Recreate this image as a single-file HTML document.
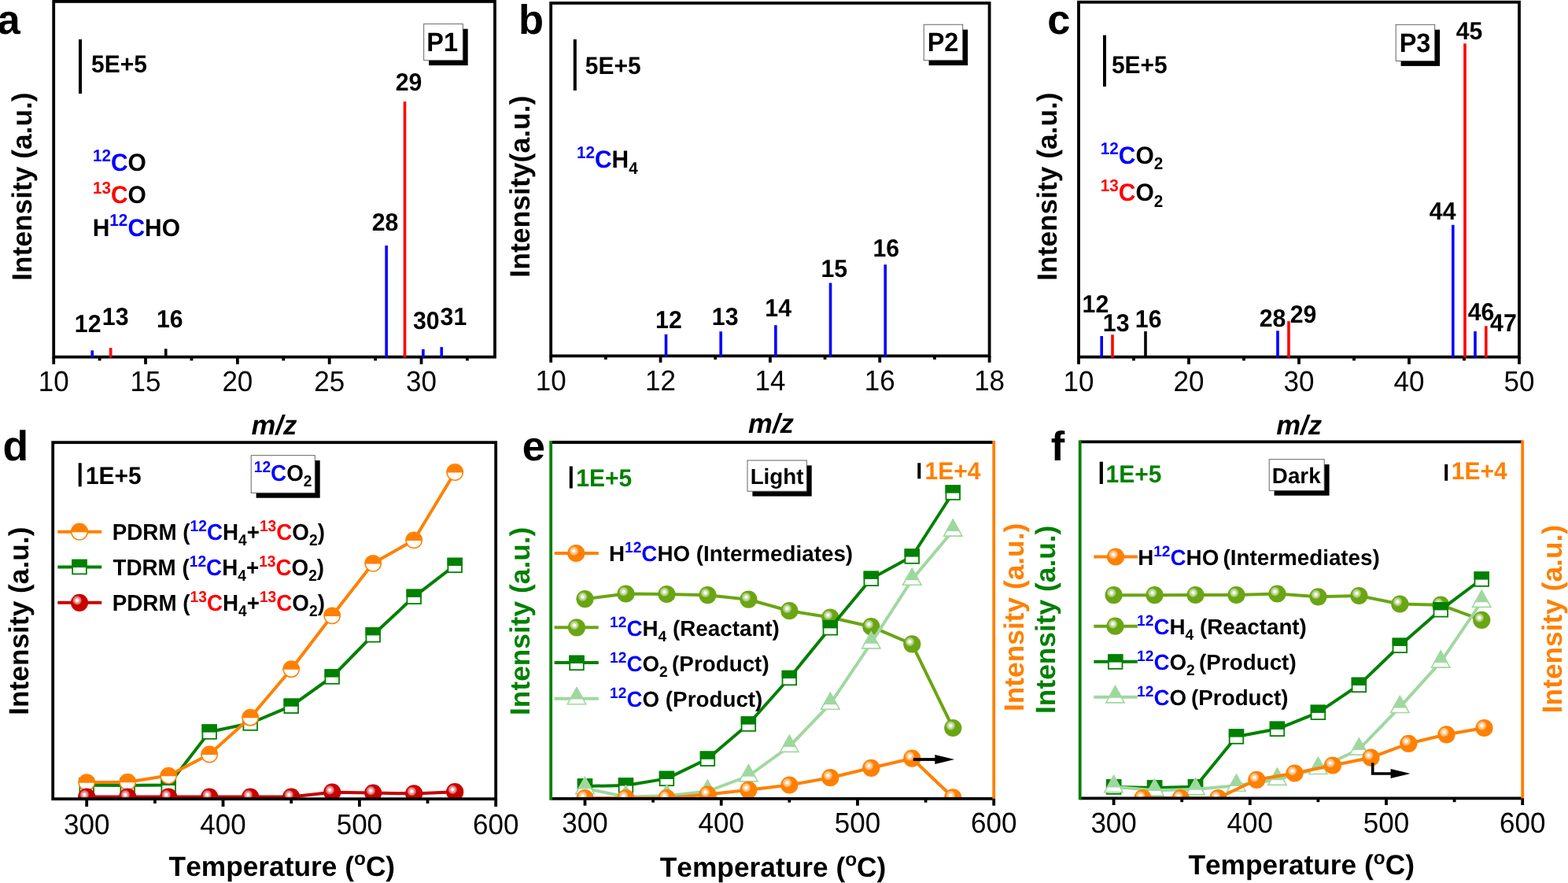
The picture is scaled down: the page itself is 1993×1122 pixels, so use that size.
<!DOCTYPE html><html><head><meta charset="utf-8"><title>Figure</title><style>html,body{margin:0;padding:0;background:#fff}body{width:1993px;height:1122px;overflow:hidden}</style></head><body><svg width="1993" height="1122" viewBox="0 0 1993 1122" font-family="'Liberation Sans', sans-serif" style="font-kerning:none;display:block" text-rendering="geometricPrecision"><defs><radialGradient id="hl" cx="0.5" cy="0.5" r="0.5"><stop offset="0" stop-color="#fff" stop-opacity="1"/><stop offset="0.2" stop-color="#fff" stop-opacity="1"/><stop offset="0.42" stop-color="#fff" stop-opacity="0.68"/><stop offset="0.76" stop-color="#fff" stop-opacity="0.42"/><stop offset="1" stop-color="#fff" stop-opacity="0"/></radialGradient><clipPath id="cd"><rect x="67.2" y="562.2" width="563.0" height="454.5"/></clipPath><clipPath id="ce"><rect x="700.2" y="562.0" width="563.0" height="454.29999999999995"/></clipPath><clipPath id="cf"><rect x="1372.7" y="561.3" width="562.5" height="454.5"/></clipPath></defs><rect x="68.20" y="1.90" width="560.80" height="451.70" fill="none" stroke="#000" stroke-width="3.8"/>
<line x1="68.20" y1="453.60" x2="68.20" y2="462.80" stroke="#000" stroke-width="3.8"/>
<line x1="185.03" y1="453.60" x2="185.03" y2="462.80" stroke="#000" stroke-width="3.8"/>
<line x1="301.87" y1="453.60" x2="301.87" y2="462.80" stroke="#000" stroke-width="3.8"/>
<line x1="418.70" y1="453.60" x2="418.70" y2="462.80" stroke="#000" stroke-width="3.8"/>
<line x1="535.53" y1="453.60" x2="535.53" y2="462.80" stroke="#000" stroke-width="3.8"/>
<line x1="126.62" y1="453.60" x2="126.62" y2="458.30" stroke="#000" stroke-width="3.8"/>
<line x1="243.45" y1="453.60" x2="243.45" y2="458.30" stroke="#000" stroke-width="3.8"/>
<line x1="360.28" y1="453.60" x2="360.28" y2="458.30" stroke="#000" stroke-width="3.8"/>
<line x1="477.12" y1="453.60" x2="477.12" y2="458.30" stroke="#000" stroke-width="3.8"/>
<line x1="593.95" y1="453.60" x2="593.95" y2="458.30" stroke="#000" stroke-width="3.8"/>
<text transform="translate(48.73,497.20) scale(1,1.04)" font-size="35.00">10</text>
<text transform="translate(165.57,497.20) scale(1,1.04)" font-size="35.00">15</text>
<text transform="translate(282.40,497.20) scale(1,1.04)" font-size="35.00">20</text>
<text transform="translate(399.23,497.20) scale(1,1.04)" font-size="35.00">25</text>
<text transform="translate(516.07,497.20) scale(1,1.04)" font-size="35.00">30</text>
<rect x="115.47" y="445.30" width="3.60" height="9.10" fill="#0000ff"/>
<rect x="138.84" y="442.00" width="3.60" height="12.40" fill="#ff0000"/>
<rect x="208.94" y="443.20" width="3.60" height="11.20" fill="#000"/>
<rect x="489.34" y="312.00" width="3.60" height="142.40" fill="#0000ff"/>
<rect x="512.70" y="129.00" width="3.60" height="325.40" fill="#ff0000"/>
<rect x="536.07" y="443.70" width="3.60" height="10.70" fill="#0000ff"/>
<rect x="559.44" y="441.00" width="3.60" height="13.40" fill="#0000ff"/>
<text transform="translate(94.79,422.00) scale(1,1.04)" font-size="30.30" font-weight="bold">12</text>
<text transform="translate(129.79,413.20) scale(1,1.04)" font-size="30.30" font-weight="bold">13</text>
<text transform="translate(198.89,416.00) scale(1,1.04)" font-size="30.30" font-weight="bold">16</text>
<text transform="translate(472.65,292.80) scale(1,1.04)" font-size="30.30" font-weight="bold">28</text>
<text transform="translate(502.65,115.00) scale(1,1.04)" font-size="30.30" font-weight="bold">29</text>
<text transform="translate(525.00,418.20) scale(1,1.04)" font-size="30.30" font-weight="bold">30</text>
<text transform="translate(559.60,412.70) scale(1,1.04)" font-size="30.30" font-weight="bold">31</text>
<rect x="100.00" y="50.00" width="4.00" height="69.00" fill="#000"/>
<text transform="translate(116.08,92.20) scale(1,1.04)" font-size="30.00" font-weight="bold">5E+5</text>
<rect x="545.10" y="36.70" width="49.60" height="46.40" fill="#000"/>
<rect x="538.70" y="30.30" width="49.60" height="46.40" fill="#fff" stroke="#555" stroke-width="0.9"/>
<text transform="translate(542.33,65.00) scale(1,1.04)" font-size="32.50" font-weight="bold">P1</text>
<text transform="translate(117.90,217.00) scale(1,1.04)" font-weight="bold"><tspan font-size="20.70" fill="#0000ff" dy="-11.68">12</tspan><tspan font-size="30.00" fill="#0000ff" dy="11.68">C</tspan><tspan font-size="30.00">O</tspan></text>
<text transform="translate(117.90,258.00) scale(1,1.04)" font-weight="bold"><tspan font-size="20.70" fill="#ff0000" dy="-11.68">13</tspan><tspan font-size="30.00" fill="#ff0000" dy="11.68">C</tspan><tspan font-size="30.00">O</tspan></text>
<text transform="translate(117.69,299.50) scale(1,1.04)" font-weight="bold"><tspan font-size="30.00">H</tspan><tspan font-size="20.70" fill="#0000ff" dy="-11.68">12</tspan><tspan font-size="30.00" fill="#0000ff" dy="11.68">C</tspan><tspan font-size="30.00">HO</tspan></text>
<text transform="translate(39.50,356.74) rotate(-90)" font-size="35.30" font-weight="bold">Intensity (a.u.)</text>
<text x="319.41" y="551.80" font-size="34.70" font-weight="bold" font-style="italic">m/z</text>
<text x="-3.63" y="43.30" font-size="52.50" font-weight="bold">a</text>
<rect x="700.20" y="3.90" width="557.40" height="448.40" fill="none" stroke="#000" stroke-width="3.8"/>
<line x1="700.20" y1="452.30" x2="700.20" y2="460.70" stroke="#000" stroke-width="3.8"/>
<line x1="839.55" y1="452.30" x2="839.55" y2="460.70" stroke="#000" stroke-width="3.8"/>
<line x1="978.90" y1="452.30" x2="978.90" y2="460.70" stroke="#000" stroke-width="3.8"/>
<line x1="1118.25" y1="452.30" x2="1118.25" y2="460.70" stroke="#000" stroke-width="3.8"/>
<line x1="1257.60" y1="452.30" x2="1257.60" y2="460.70" stroke="#000" stroke-width="3.8"/>
<line x1="769.88" y1="452.30" x2="769.88" y2="456.80" stroke="#000" stroke-width="3.8"/>
<line x1="909.23" y1="452.30" x2="909.23" y2="456.80" stroke="#000" stroke-width="3.8"/>
<line x1="1048.57" y1="452.30" x2="1048.57" y2="456.80" stroke="#000" stroke-width="3.8"/>
<line x1="1187.92" y1="452.30" x2="1187.92" y2="456.80" stroke="#000" stroke-width="3.8"/>
<text transform="translate(680.73,495.60) scale(1,1.04)" font-size="35.00">10</text>
<text transform="translate(820.08,495.60) scale(1,1.04)" font-size="35.00">12</text>
<text transform="translate(959.43,495.60) scale(1,1.04)" font-size="35.00">14</text>
<text transform="translate(1098.78,495.60) scale(1,1.04)" font-size="35.00">16</text>
<text transform="translate(1238.13,495.60) scale(1,1.04)" font-size="35.00">18</text>
<rect x="844.72" y="424.80" width="3.60" height="28.30" fill="#0000ff"/>
<rect x="914.39" y="421.20" width="3.60" height="31.90" fill="#0000ff"/>
<rect x="984.07" y="413.20" width="3.60" height="39.90" fill="#0000ff"/>
<rect x="1053.74" y="359.50" width="3.60" height="93.60" fill="#0000ff"/>
<rect x="1123.42" y="336.20" width="3.60" height="116.90" fill="#0000ff"/>
<text transform="translate(833.09,416.50) scale(1,1.04)" font-size="30.30" font-weight="bold">12</text>
<text transform="translate(904.79,412.70) scale(1,1.04)" font-size="30.30" font-weight="bold">13</text>
<text transform="translate(972.29,402.30) scale(1,1.04)" font-size="30.30" font-weight="bold">14</text>
<text transform="translate(1043.39,352.30) scale(1,1.04)" font-size="30.30" font-weight="bold">15</text>
<text transform="translate(1109.39,326.20) scale(1,1.04)" font-size="30.30" font-weight="bold">16</text>
<rect x="728.80" y="50.00" width="4.00" height="65.00" fill="#000"/>
<text transform="translate(743.78,94.00) scale(1,1.04)" font-size="30.00" font-weight="bold">5E+5</text>
<rect x="1180.60" y="37.60" width="49.50" height="45.50" fill="#000"/>
<rect x="1174.20" y="31.20" width="49.50" height="45.50" fill="#fff" stroke="#555" stroke-width="0.9"/>
<text transform="translate(1178.63,65.00) scale(1,1.04)" font-size="32.50" font-weight="bold">P2</text>
<text transform="translate(732.90,213.30) scale(1,1.04)" font-weight="bold"><tspan font-size="20.70" fill="#0000ff" dy="-11.68">12</tspan><tspan font-size="30.00" fill="#0000ff" dy="11.68">C</tspan><tspan font-size="30.00">H</tspan><tspan font-size="20.70" dy="7.36">4</tspan></text>
<text transform="translate(672.50,352.71) rotate(-90)" font-size="35.60" font-weight="bold">Intensity(a.u.)</text>
<text x="951.11" y="550.30" font-size="34.70" font-weight="bold" font-style="italic">m/z</text>
<text x="659.04" y="43.20" font-size="52.50" font-weight="bold">b</text>
<rect x="1371.00" y="2.70" width="560.00" height="450.90" fill="none" stroke="#000" stroke-width="3.8"/>
<line x1="1371.00" y1="453.60" x2="1371.00" y2="462.80" stroke="#000" stroke-width="3.8"/>
<line x1="1511.00" y1="453.60" x2="1511.00" y2="462.80" stroke="#000" stroke-width="3.8"/>
<line x1="1651.00" y1="453.60" x2="1651.00" y2="462.80" stroke="#000" stroke-width="3.8"/>
<line x1="1791.00" y1="453.60" x2="1791.00" y2="462.80" stroke="#000" stroke-width="3.8"/>
<line x1="1931.00" y1="453.60" x2="1931.00" y2="462.80" stroke="#000" stroke-width="3.8"/>
<line x1="1441.00" y1="453.60" x2="1441.00" y2="458.30" stroke="#000" stroke-width="3.8"/>
<line x1="1581.00" y1="453.60" x2="1581.00" y2="458.30" stroke="#000" stroke-width="3.8"/>
<line x1="1721.00" y1="453.60" x2="1721.00" y2="458.30" stroke="#000" stroke-width="3.8"/>
<line x1="1861.00" y1="453.60" x2="1861.00" y2="458.30" stroke="#000" stroke-width="3.8"/>
<text transform="translate(1351.53,497.20) scale(1,1.04)" font-size="35.00">10</text>
<text transform="translate(1491.53,497.20) scale(1,1.04)" font-size="35.00">20</text>
<text transform="translate(1631.53,497.20) scale(1,1.04)" font-size="35.00">30</text>
<text transform="translate(1771.53,497.20) scale(1,1.04)" font-size="35.00">40</text>
<text transform="translate(1911.53,497.20) scale(1,1.04)" font-size="35.00">50</text>
<rect x="1398.40" y="427.00" width="3.60" height="27.40" fill="#0000ff"/>
<rect x="1412.20" y="425.30" width="3.60" height="29.10" fill="#ff0000"/>
<rect x="1454.20" y="421.00" width="3.60" height="33.40" fill="#000"/>
<rect x="1622.20" y="420.30" width="3.60" height="34.10" fill="#0000ff"/>
<rect x="1636.20" y="408.20" width="3.60" height="46.20" fill="#ff0000"/>
<rect x="1845.00" y="285.80" width="3.60" height="168.60" fill="#0000ff"/>
<rect x="1860.20" y="55.30" width="3.60" height="399.10" fill="#ff0000"/>
<rect x="1873.20" y="421.00" width="3.60" height="33.40" fill="#0000ff"/>
<rect x="1887.00" y="414.30" width="3.60" height="40.10" fill="#ff0000"/>
<text transform="translate(1375.59,397.30) scale(1,1.04)" font-size="30.30" font-weight="bold">12</text>
<text transform="translate(1401.79,421.00) scale(1,1.04)" font-size="30.30" font-weight="bold">13</text>
<text transform="translate(1442.79,415.70) scale(1,1.04)" font-size="30.30" font-weight="bold">16</text>
<text transform="translate(1600.65,414.80) scale(1,1.04)" font-size="30.30" font-weight="bold">28</text>
<text transform="translate(1639.65,409.80) scale(1,1.04)" font-size="30.30" font-weight="bold">29</text>
<text transform="translate(1816.84,278.70) scale(1,1.04)" font-size="30.30" font-weight="bold">44</text>
<text transform="translate(1850.74,49.70) scale(1,1.04)" font-size="30.30" font-weight="bold">45</text>
<text transform="translate(1865.74,407.30) scale(1,1.04)" font-size="30.30" font-weight="bold">46</text>
<text transform="translate(1894.04,421.00) scale(1,1.04)" font-size="30.30" font-weight="bold">47</text>
<rect x="1402.00" y="44.70" width="4.00" height="65.30" fill="#000"/>
<text transform="translate(1412.88,93.30) scale(1,1.04)" font-size="30.00" font-weight="bold">5E+5</text>
<rect x="1780.60" y="37.70" width="49.50" height="46.20" fill="#000"/>
<rect x="1774.20" y="31.30" width="49.50" height="46.20" fill="#fff" stroke="#555" stroke-width="0.9"/>
<text transform="translate(1778.63,65.80) scale(1,1.04)" font-size="32.50" font-weight="bold">P3</text>
<text transform="translate(1398.70,207.80) scale(1,1.04)" font-weight="bold"><tspan font-size="20.70" fill="#0000ff" dy="-11.68">12</tspan><tspan font-size="30.00" fill="#0000ff" dy="11.68">C</tspan><tspan font-size="30.00">O</tspan><tspan font-size="20.70" dy="7.36">2</tspan></text>
<text transform="translate(1398.70,255.00) scale(1,1.04)" font-weight="bold"><tspan font-size="20.70" fill="#ff0000" dy="-11.68">13</tspan><tspan font-size="30.00" fill="#ff0000" dy="11.68">C</tspan><tspan font-size="30.00">O</tspan><tspan font-size="20.70" dy="7.36">2</tspan></text>
<text transform="translate(1342.50,356.74) rotate(-90)" font-size="35.30" font-weight="bold">Intensity (a.u.)</text>
<text x="1622.21" y="552.00" font-size="34.70" font-weight="bold" font-style="italic">m/z</text>
<text x="1331.25" y="43.30" font-size="52.50" font-weight="bold">c</text>
<g clip-path="url(#cd)">
<polyline points="110.20,997.70 162.20,998.00 214.20,997.50 266.20,930.00 318.20,919.00 370.20,897.20 422.20,860.00 474.20,806.80 526.20,758.30 578.20,718.40" fill="none" stroke="#008000" stroke-width="4.0" stroke-linejoin="round"/>
<rect x="101.40" y="988.90" width="17.60" height="17.60" fill="#fff" stroke="#008000" stroke-width="1.8"/>
<rect x="100.50" y="988.00" width="19.40" height="10.30" fill="#008000"/>
<rect x="153.40" y="989.20" width="17.60" height="17.60" fill="#fff" stroke="#008000" stroke-width="1.8"/>
<rect x="152.50" y="988.30" width="19.40" height="10.30" fill="#008000"/>
<rect x="205.40" y="988.70" width="17.60" height="17.60" fill="#fff" stroke="#008000" stroke-width="1.8"/>
<rect x="204.50" y="987.80" width="19.40" height="10.30" fill="#008000"/>
<rect x="257.40" y="921.20" width="17.60" height="17.60" fill="#fff" stroke="#008000" stroke-width="1.8"/>
<rect x="256.50" y="920.30" width="19.40" height="10.30" fill="#008000"/>
<rect x="309.40" y="910.20" width="17.60" height="17.60" fill="#fff" stroke="#008000" stroke-width="1.8"/>
<rect x="308.50" y="909.30" width="19.40" height="10.30" fill="#008000"/>
<rect x="361.40" y="888.40" width="17.60" height="17.60" fill="#fff" stroke="#008000" stroke-width="1.8"/>
<rect x="360.50" y="887.50" width="19.40" height="10.30" fill="#008000"/>
<rect x="413.40" y="851.20" width="17.60" height="17.60" fill="#fff" stroke="#008000" stroke-width="1.8"/>
<rect x="412.50" y="850.30" width="19.40" height="10.30" fill="#008000"/>
<rect x="465.40" y="798.00" width="17.60" height="17.60" fill="#fff" stroke="#008000" stroke-width="1.8"/>
<rect x="464.50" y="797.10" width="19.40" height="10.30" fill="#008000"/>
<rect x="517.40" y="749.50" width="17.60" height="17.60" fill="#fff" stroke="#008000" stroke-width="1.8"/>
<rect x="516.50" y="748.60" width="19.40" height="10.30" fill="#008000"/>
<rect x="569.40" y="709.60" width="17.60" height="17.60" fill="#fff" stroke="#008000" stroke-width="1.8"/>
<rect x="568.50" y="708.70" width="19.40" height="10.30" fill="#008000"/>
<polyline points="110.20,994.20 162.20,993.70 214.20,985.60 266.20,958.50 318.20,911.70 370.20,850.20 422.20,782.30 474.20,715.80 526.20,686.30 578.20,600.00" fill="none" stroke="#ff8000" stroke-width="4.0" stroke-linejoin="round"/>
<circle cx="110.20" cy="994.20" r="10.15" fill="#fff" stroke="#ff8000" stroke-width="1.5"/>
<path d="M99.32,994.80 A10.9,10.9 0 0 1 121.08,994.80 Z" fill="#ff8000"/>
<circle cx="162.20" cy="993.70" r="10.15" fill="#fff" stroke="#ff8000" stroke-width="1.5"/>
<path d="M151.32,994.30 A10.9,10.9 0 0 1 173.08,994.30 Z" fill="#ff8000"/>
<circle cx="214.20" cy="985.60" r="10.15" fill="#fff" stroke="#ff8000" stroke-width="1.5"/>
<path d="M203.32,986.20 A10.9,10.9 0 0 1 225.08,986.20 Z" fill="#ff8000"/>
<circle cx="266.20" cy="958.50" r="10.15" fill="#fff" stroke="#ff8000" stroke-width="1.5"/>
<path d="M255.32,959.10 A10.9,10.9 0 0 1 277.08,959.10 Z" fill="#ff8000"/>
<circle cx="318.20" cy="911.70" r="10.15" fill="#fff" stroke="#ff8000" stroke-width="1.5"/>
<path d="M307.32,912.30 A10.9,10.9 0 0 1 329.08,912.30 Z" fill="#ff8000"/>
<circle cx="370.20" cy="850.20" r="10.15" fill="#fff" stroke="#ff8000" stroke-width="1.5"/>
<path d="M359.32,850.80 A10.9,10.9 0 0 1 381.08,850.80 Z" fill="#ff8000"/>
<circle cx="422.20" cy="782.30" r="10.15" fill="#fff" stroke="#ff8000" stroke-width="1.5"/>
<path d="M411.32,782.90 A10.9,10.9 0 0 1 433.08,782.90 Z" fill="#ff8000"/>
<circle cx="474.20" cy="715.80" r="10.15" fill="#fff" stroke="#ff8000" stroke-width="1.5"/>
<path d="M463.32,716.40 A10.9,10.9 0 0 1 485.08,716.40 Z" fill="#ff8000"/>
<circle cx="526.20" cy="686.30" r="10.15" fill="#fff" stroke="#ff8000" stroke-width="1.5"/>
<path d="M515.32,686.90 A10.9,10.9 0 0 1 537.08,686.90 Z" fill="#ff8000"/>
<circle cx="578.20" cy="600.00" r="10.15" fill="#fff" stroke="#ff8000" stroke-width="1.5"/>
<path d="M567.32,600.60 A10.9,10.9 0 0 1 589.08,600.60 Z" fill="#ff8000"/>
<polyline points="110.20,1012.60 162.20,1012.60 214.20,1012.60 266.20,1012.60 318.20,1012.60 370.20,1012.60 422.20,1006.70 474.20,1007.60 526.20,1008.40 578.20,1006.20" fill="none" stroke="#c80000" stroke-width="4.0" stroke-linejoin="round"/>
<circle cx="110.20" cy="1012.60" r="11.1" fill="#c80000"/><circle cx="107.30" cy="1009.70" r="6.2" fill="url(#hl)"/>
<circle cx="162.20" cy="1012.60" r="11.1" fill="#c80000"/><circle cx="159.30" cy="1009.70" r="6.2" fill="url(#hl)"/>
<circle cx="214.20" cy="1012.60" r="11.1" fill="#c80000"/><circle cx="211.30" cy="1009.70" r="6.2" fill="url(#hl)"/>
<circle cx="266.20" cy="1012.60" r="11.1" fill="#c80000"/><circle cx="263.30" cy="1009.70" r="6.2" fill="url(#hl)"/>
<circle cx="318.20" cy="1012.60" r="11.1" fill="#c80000"/><circle cx="315.30" cy="1009.70" r="6.2" fill="url(#hl)"/>
<circle cx="370.20" cy="1012.60" r="11.1" fill="#c80000"/><circle cx="367.30" cy="1009.70" r="6.2" fill="url(#hl)"/>
<circle cx="422.20" cy="1006.70" r="11.1" fill="#c80000"/><circle cx="419.30" cy="1003.80" r="6.2" fill="url(#hl)"/>
<circle cx="474.20" cy="1007.60" r="11.1" fill="#c80000"/><circle cx="471.30" cy="1004.70" r="6.2" fill="url(#hl)"/>
<circle cx="526.20" cy="1008.40" r="11.1" fill="#c80000"/><circle cx="523.30" cy="1005.50" r="6.2" fill="url(#hl)"/>
<circle cx="578.20" cy="1006.20" r="11.1" fill="#c80000"/><circle cx="575.30" cy="1003.30" r="6.2" fill="url(#hl)"/>
</g>
<rect x="67.20" y="562.20" width="563.00" height="453.00" fill="none" stroke="#000" stroke-width="3.8"/>
<line x1="110.20" y1="1015.20" x2="110.20" y2="1025.00" stroke="#000" stroke-width="3.8"/>
<text transform="translate(81.00,1059.70) scale(1,1.04)" font-size="35.00">300</text>
<line x1="283.53" y1="1015.20" x2="283.53" y2="1025.00" stroke="#000" stroke-width="3.8"/>
<text transform="translate(254.34,1059.70) scale(1,1.04)" font-size="35.00">400</text>
<line x1="456.87" y1="1015.20" x2="456.87" y2="1025.00" stroke="#000" stroke-width="3.8"/>
<text transform="translate(427.67,1059.70) scale(1,1.04)" font-size="35.00">500</text>
<line x1="630.20" y1="1015.20" x2="630.20" y2="1025.00" stroke="#000" stroke-width="3.8"/>
<text transform="translate(601.00,1059.70) scale(1,1.04)" font-size="35.00">600</text>
<line x1="196.87" y1="1015.20" x2="196.87" y2="1020.90" stroke="#000" stroke-width="3.8"/>
<line x1="370.20" y1="1015.20" x2="370.20" y2="1020.90" stroke="#000" stroke-width="3.8"/>
<line x1="543.53" y1="1015.20" x2="543.53" y2="1020.90" stroke="#000" stroke-width="3.8"/>
<line x1="73.30" y1="675.80" x2="129.20" y2="675.80" stroke="#ff8000" stroke-width="4.0"/>
<circle cx="101.00" cy="675.60" r="10.35" fill="#fff" stroke="#ff8000" stroke-width="1.5"/>
<path d="M89.92,676.20 A11.1,11.1 0 0 1 112.08,676.20 Z" fill="#ff8000"/>
<line x1="73.30" y1="720.50" x2="129.20" y2="720.50" stroke="#008000" stroke-width="4.0"/>
<rect x="92.15" y="711.65" width="17.70" height="17.70" fill="#fff" stroke="#008000" stroke-width="1.8"/>
<rect x="91.25" y="710.75" width="19.50" height="10.35" fill="#008000"/>
<line x1="73.30" y1="765.80" x2="129.20" y2="765.80" stroke="#c80000" stroke-width="4.0"/>
<circle cx="101.00" cy="765.80" r="11.1" fill="#c80000"/><circle cx="98.10" cy="762.90" r="6.2" fill="url(#hl)"/>
<text transform="translate(142.74,685.90) scale(1,1.04)" font-weight="bold"><tspan font-size="27.80">PDRM (</tspan><tspan font-size="19.18" fill="#0000ff" dy="-10.83">12</tspan><tspan font-size="27.80" fill="#0000ff" dy="10.83">C</tspan><tspan font-size="27.80">H</tspan><tspan font-size="19.18" dy="6.82">4</tspan><tspan font-size="27.80" dy="-6.82">+</tspan><tspan font-size="19.18" fill="#ff0000" dy="-10.83">13</tspan><tspan font-size="27.80" fill="#ff0000" dy="10.83">C</tspan><tspan font-size="27.80">O</tspan><tspan font-size="19.18" dy="6.82">2</tspan><tspan font-size="27.80" dy="-6.82">)</tspan></text>
<text transform="translate(143.49,731.00) scale(1,1.04)" font-weight="bold"><tspan font-size="27.80">TDRM (</tspan><tspan font-size="19.18" fill="#0000ff" dy="-10.83">12</tspan><tspan font-size="27.80" fill="#0000ff" dy="10.83">C</tspan><tspan font-size="27.80">H</tspan><tspan font-size="19.18" dy="6.82">4</tspan><tspan font-size="27.80" dy="-6.82">+</tspan><tspan font-size="19.18" fill="#ff0000" dy="-10.83">13</tspan><tspan font-size="27.80" fill="#ff0000" dy="10.83">C</tspan><tspan font-size="27.80">O</tspan><tspan font-size="19.18" dy="6.82">2</tspan><tspan font-size="27.80" dy="-6.82">)</tspan></text>
<text transform="translate(142.74,776.20) scale(1,1.04)" font-weight="bold"><tspan font-size="27.80">PDRM (</tspan><tspan font-size="19.18" fill="#ff0000" dy="-10.83">13</tspan><tspan font-size="27.80" fill="#ff0000" dy="10.83">C</tspan><tspan font-size="27.80">H</tspan><tspan font-size="19.18" dy="6.82">4</tspan><tspan font-size="27.80" dy="-6.82">+</tspan><tspan font-size="19.18" fill="#ff0000" dy="-10.83">13</tspan><tspan font-size="27.80" fill="#ff0000" dy="10.83">C</tspan><tspan font-size="27.80">O</tspan><tspan font-size="19.18" dy="6.82">2</tspan><tspan font-size="27.80" dy="-6.82">)</tspan></text>
<rect x="99.70" y="588.30" width="4.00" height="30.00" fill="#000"/>
<text transform="translate(108.91,615.00) scale(1,1.04)" font-size="30.00" font-weight="bold">1E+5</text>
<rect x="325.60" y="585.10" width="81.10" height="47.60" fill="#000"/>
<rect x="319.20" y="578.70" width="81.10" height="47.60" fill="#fff" stroke="#555" stroke-width="0.9"/>
<text transform="translate(322.79,611.00) scale(1,1.04)" font-weight="bold"><tspan font-size="19.18" fill="#0000ff" dy="-10.83">12</tspan><tspan font-size="27.80" fill="#0000ff" dy="10.83">C</tspan><tspan font-size="27.80">O</tspan><tspan font-size="19.18" dy="6.82">2</tspan></text>
<text transform="translate(35.50,908.84) rotate(-90)" font-size="35.30" font-weight="bold">Intensity (a.u.)</text>
<text x="214.60" y="1113.00" font-weight="bold"><tspan font-size="35.30">Temperature (</tspan><tspan font-size="24.36" dy="-13.80">o</tspan><tspan font-size="35.30" dy="13.80">C)</tspan></text>
<text x="3.41" y="585.00" font-size="53.50" font-weight="bold">d</text>
<g clip-path="url(#ce)">
<polyline points="743.50,761.20 795.47,754.50 847.44,755.00 899.41,756.20 951.38,761.70 1003.35,776.20 1055.32,784.50 1107.29,796.20 1159.26,818.30 1211.23,925.00" fill="none" stroke="#6aa514" stroke-width="4.0" stroke-linejoin="round"/>
<circle cx="743.50" cy="761.20" r="11.1" fill="#6aa514"/><circle cx="740.60" cy="758.30" r="6.2" fill="url(#hl)"/>
<circle cx="795.47" cy="754.50" r="11.1" fill="#6aa514"/><circle cx="792.57" cy="751.60" r="6.2" fill="url(#hl)"/>
<circle cx="847.44" cy="755.00" r="11.1" fill="#6aa514"/><circle cx="844.54" cy="752.10" r="6.2" fill="url(#hl)"/>
<circle cx="899.41" cy="756.20" r="11.1" fill="#6aa514"/><circle cx="896.51" cy="753.30" r="6.2" fill="url(#hl)"/>
<circle cx="951.38" cy="761.70" r="11.1" fill="#6aa514"/><circle cx="948.48" cy="758.80" r="6.2" fill="url(#hl)"/>
<circle cx="1003.35" cy="776.20" r="11.1" fill="#6aa514"/><circle cx="1000.45" cy="773.30" r="6.2" fill="url(#hl)"/>
<circle cx="1055.32" cy="784.50" r="11.1" fill="#6aa514"/><circle cx="1052.42" cy="781.60" r="6.2" fill="url(#hl)"/>
<circle cx="1107.29" cy="796.20" r="11.1" fill="#6aa514"/><circle cx="1104.39" cy="793.30" r="6.2" fill="url(#hl)"/>
<circle cx="1159.26" cy="818.30" r="11.1" fill="#6aa514"/><circle cx="1156.36" cy="815.40" r="6.2" fill="url(#hl)"/>
<circle cx="1211.23" cy="925.00" r="11.1" fill="#6aa514"/><circle cx="1208.33" cy="922.10" r="6.2" fill="url(#hl)"/>
<polyline points="743.50,999.00 795.47,998.00 847.44,989.40 899.41,964.20 951.38,920.00 1003.35,861.50 1055.32,797.80 1107.29,735.30 1159.26,707.00 1211.23,626.00" fill="none" stroke="#008000" stroke-width="4.0" stroke-linejoin="round"/>
<rect x="734.70" y="990.20" width="17.60" height="17.60" fill="#fff" stroke="#008000" stroke-width="1.8"/>
<rect x="733.80" y="989.30" width="19.40" height="10.30" fill="#008000"/>
<rect x="786.67" y="989.20" width="17.60" height="17.60" fill="#fff" stroke="#008000" stroke-width="1.8"/>
<rect x="785.77" y="988.30" width="19.40" height="10.30" fill="#008000"/>
<rect x="838.64" y="980.60" width="17.60" height="17.60" fill="#fff" stroke="#008000" stroke-width="1.8"/>
<rect x="837.74" y="979.70" width="19.40" height="10.30" fill="#008000"/>
<rect x="890.61" y="955.40" width="17.60" height="17.60" fill="#fff" stroke="#008000" stroke-width="1.8"/>
<rect x="889.71" y="954.50" width="19.40" height="10.30" fill="#008000"/>
<rect x="942.58" y="911.20" width="17.60" height="17.60" fill="#fff" stroke="#008000" stroke-width="1.8"/>
<rect x="941.68" y="910.30" width="19.40" height="10.30" fill="#008000"/>
<rect x="994.55" y="852.70" width="17.60" height="17.60" fill="#fff" stroke="#008000" stroke-width="1.8"/>
<rect x="993.65" y="851.80" width="19.40" height="10.30" fill="#008000"/>
<rect x="1046.52" y="789.00" width="17.60" height="17.60" fill="#fff" stroke="#008000" stroke-width="1.8"/>
<rect x="1045.62" y="788.10" width="19.40" height="10.30" fill="#008000"/>
<rect x="1098.49" y="726.50" width="17.60" height="17.60" fill="#fff" stroke="#008000" stroke-width="1.8"/>
<rect x="1097.59" y="725.60" width="19.40" height="10.30" fill="#008000"/>
<rect x="1150.46" y="698.20" width="17.60" height="17.60" fill="#fff" stroke="#008000" stroke-width="1.8"/>
<rect x="1149.56" y="697.30" width="19.40" height="10.30" fill="#008000"/>
<rect x="1202.43" y="617.20" width="17.60" height="17.60" fill="#fff" stroke="#008000" stroke-width="1.8"/>
<rect x="1201.53" y="616.30" width="19.40" height="10.30" fill="#008000"/>
<polyline points="743.50,1001.70 795.47,1012.50 847.44,1011.30 899.41,1005.50 951.38,986.00 1003.35,948.50 1055.32,894.40 1107.29,817.00 1159.26,736.40 1211.23,674.20" fill="none" stroke="#9fd89f" stroke-width="4.0" stroke-linejoin="round"/>
<path d="M743.50,987.70 L755.20,1008.60 L731.80,1008.60 Z" fill="#fff" stroke="#9fd89f" stroke-width="1.6" stroke-linejoin="miter"/>
<path d="M743.50,986.30 L752.69,1002.50 L734.31,1002.50 Z" fill="#9fd89f"/>
<path d="M795.47,998.50 L807.17,1019.40 L783.77,1019.40 Z" fill="#fff" stroke="#9fd89f" stroke-width="1.6" stroke-linejoin="miter"/>
<path d="M795.47,997.10 L804.66,1013.30 L786.28,1013.30 Z" fill="#9fd89f"/>
<path d="M847.44,997.30 L859.14,1018.20 L835.74,1018.20 Z" fill="#fff" stroke="#9fd89f" stroke-width="1.6" stroke-linejoin="miter"/>
<path d="M847.44,995.90 L856.63,1012.10 L838.25,1012.10 Z" fill="#9fd89f"/>
<path d="M899.41,991.50 L911.11,1012.40 L887.71,1012.40 Z" fill="#fff" stroke="#9fd89f" stroke-width="1.6" stroke-linejoin="miter"/>
<path d="M899.41,990.10 L908.60,1006.30 L890.22,1006.30 Z" fill="#9fd89f"/>
<path d="M951.38,972.00 L963.08,992.90 L939.68,992.90 Z" fill="#fff" stroke="#9fd89f" stroke-width="1.6" stroke-linejoin="miter"/>
<path d="M951.38,970.60 L960.57,986.80 L942.19,986.80 Z" fill="#9fd89f"/>
<path d="M1003.35,934.50 L1015.05,955.40 L991.65,955.40 Z" fill="#fff" stroke="#9fd89f" stroke-width="1.6" stroke-linejoin="miter"/>
<path d="M1003.35,933.10 L1012.54,949.30 L994.16,949.30 Z" fill="#9fd89f"/>
<path d="M1055.32,880.40 L1067.02,901.30 L1043.62,901.30 Z" fill="#fff" stroke="#9fd89f" stroke-width="1.6" stroke-linejoin="miter"/>
<path d="M1055.32,879.00 L1064.51,895.20 L1046.13,895.20 Z" fill="#9fd89f"/>
<path d="M1107.29,803.00 L1118.99,823.90 L1095.59,823.90 Z" fill="#fff" stroke="#9fd89f" stroke-width="1.6" stroke-linejoin="miter"/>
<path d="M1107.29,801.60 L1116.48,817.80 L1098.10,817.80 Z" fill="#9fd89f"/>
<path d="M1159.26,722.40 L1170.96,743.30 L1147.56,743.30 Z" fill="#fff" stroke="#9fd89f" stroke-width="1.6" stroke-linejoin="miter"/>
<path d="M1159.26,721.00 L1168.45,737.20 L1150.07,737.20 Z" fill="#9fd89f"/>
<path d="M1211.23,660.20 L1222.93,681.10 L1199.53,681.10 Z" fill="#fff" stroke="#9fd89f" stroke-width="1.6" stroke-linejoin="miter"/>
<path d="M1211.23,658.80 L1220.42,675.00 L1202.04,675.00 Z" fill="#9fd89f"/>
<polyline points="743.50,1014.00 795.47,1014.00 847.44,1014.00 899.41,1009.50 951.38,1003.80 1003.35,997.50 1055.32,988.20 1107.29,975.80 1159.26,963.70 1211.23,1013.30" fill="none" stroke="#ff8000" stroke-width="4.0" stroke-linejoin="round"/>
<circle cx="743.50" cy="1014.00" r="11.1" fill="#ff8000"/><circle cx="740.60" cy="1011.10" r="6.2" fill="url(#hl)"/>
<circle cx="795.47" cy="1014.00" r="11.1" fill="#ff8000"/><circle cx="792.57" cy="1011.10" r="6.2" fill="url(#hl)"/>
<circle cx="847.44" cy="1014.00" r="11.1" fill="#ff8000"/><circle cx="844.54" cy="1011.10" r="6.2" fill="url(#hl)"/>
<circle cx="899.41" cy="1009.50" r="11.1" fill="#ff8000"/><circle cx="896.51" cy="1006.60" r="6.2" fill="url(#hl)"/>
<circle cx="951.38" cy="1003.80" r="11.1" fill="#ff8000"/><circle cx="948.48" cy="1000.90" r="6.2" fill="url(#hl)"/>
<circle cx="1003.35" cy="997.50" r="11.1" fill="#ff8000"/><circle cx="1000.45" cy="994.60" r="6.2" fill="url(#hl)"/>
<circle cx="1055.32" cy="988.20" r="11.1" fill="#ff8000"/><circle cx="1052.42" cy="985.30" r="6.2" fill="url(#hl)"/>
<circle cx="1107.29" cy="975.80" r="11.1" fill="#ff8000"/><circle cx="1104.39" cy="972.90" r="6.2" fill="url(#hl)"/>
<circle cx="1159.26" cy="963.70" r="11.1" fill="#ff8000"/><circle cx="1156.36" cy="960.80" r="6.2" fill="url(#hl)"/>
<circle cx="1211.23" cy="1013.30" r="11.1" fill="#ff8000"/><circle cx="1208.33" cy="1010.40" r="6.2" fill="url(#hl)"/>
</g>
<line x1="700.20" y1="562.00" x2="1263.20" y2="562.00" stroke="#000" stroke-width="3.8"/>
<line x1="700.20" y1="1014.80" x2="1263.20" y2="1014.80" stroke="#000" stroke-width="3.8"/>
<line x1="700.20" y1="560.10" x2="700.20" y2="1016.70" stroke="#008000" stroke-width="3.8"/>
<line x1="1263.20" y1="560.10" x2="1263.20" y2="1016.70" stroke="#ff8000" stroke-width="3.8"/>
<line x1="743.50" y1="1014.80" x2="743.50" y2="1023.70" stroke="#000" stroke-width="3.8"/>
<text transform="translate(714.30,1058.30) scale(1,1.04)" font-size="35.00">300</text>
<line x1="916.73" y1="1014.80" x2="916.73" y2="1023.70" stroke="#000" stroke-width="3.8"/>
<text transform="translate(887.54,1058.30) scale(1,1.04)" font-size="35.00">400</text>
<line x1="1089.97" y1="1014.80" x2="1089.97" y2="1023.70" stroke="#000" stroke-width="3.8"/>
<text transform="translate(1060.77,1058.30) scale(1,1.04)" font-size="35.00">500</text>
<line x1="1263.20" y1="1014.80" x2="1263.20" y2="1023.70" stroke="#000" stroke-width="3.8"/>
<text transform="translate(1234.00,1058.30) scale(1,1.04)" font-size="35.00">600</text>
<line x1="830.12" y1="1014.80" x2="830.12" y2="1019.70" stroke="#000" stroke-width="3.8"/>
<line x1="1003.35" y1="1014.80" x2="1003.35" y2="1019.70" stroke="#000" stroke-width="3.8"/>
<line x1="1176.58" y1="1014.80" x2="1176.58" y2="1019.70" stroke="#000" stroke-width="3.8"/>
<line x1="1160.80" y1="965.00" x2="1190.00" y2="965.00" stroke="#000" stroke-width="3.8"/>
<polygon points="1188.3,959.0 1213.2,965.0 1188.3,971.0" fill="#000"/>
<line x1="704.70" y1="703.00" x2="760.80" y2="703.00" stroke="#ff8000" stroke-width="4.0"/>
<circle cx="732.30" cy="703.00" r="11.1" fill="#ff8000"/><circle cx="729.40" cy="700.10" r="6.2" fill="url(#hl)"/>
<line x1="704.70" y1="797.30" x2="760.80" y2="797.30" stroke="#6aa514" stroke-width="4.0"/>
<circle cx="733.00" cy="797.30" r="11.1" fill="#6aa514"/><circle cx="730.10" cy="794.40" r="6.2" fill="url(#hl)"/>
<line x1="704.70" y1="842.00" x2="760.80" y2="842.00" stroke="#008000" stroke-width="4.0"/>
<rect x="724.20" y="833.60" width="17.60" height="17.60" fill="#fff" stroke="#008000" stroke-width="1.8"/>
<rect x="723.30" y="832.70" width="19.40" height="10.30" fill="#008000"/>
<line x1="704.70" y1="887.80" x2="760.80" y2="887.80" stroke="#9fd89f" stroke-width="4.0"/>
<path d="M733.00,873.80 L744.70,894.70 L721.30,894.70 Z" fill="#fff" stroke="#9fd89f" stroke-width="1.6" stroke-linejoin="miter"/>
<path d="M733.00,872.40 L742.19,888.60 L723.81,888.60 Z" fill="#9fd89f"/>
<text x="773.94" y="713.00" font-weight="bold"><tspan font-size="27.80">H</tspan><tspan font-size="19.18" fill="#0000ff" dy="-11.26">12</tspan><tspan font-size="27.80" fill="#0000ff" dy="11.26">C</tspan><tspan font-size="27.80">HO </tspan><tspan font-size="27.80">(Intermediates)</tspan></text>
<text x="775.09" y="808.20" font-weight="bold"><tspan font-size="19.18" fill="#0000ff" dy="-11.26">12</tspan><tspan font-size="27.80" fill="#0000ff" dy="11.26">C</tspan><tspan font-size="27.80">H</tspan><tspan font-size="19.18" dy="7.09">4</tspan><tspan font-size="27.80" dy="-7.09"> (Reactant)</tspan></text>
<text x="775.09" y="852.80" font-weight="bold"><tspan font-size="19.18" fill="#0000ff" dy="-11.26">12</tspan><tspan font-size="27.80" fill="#0000ff" dy="11.26">C</tspan><tspan font-size="27.80">O</tspan><tspan font-size="19.18" dy="7.09">2 </tspan><tspan font-size="27.80" dy="-7.09">(Product)</tspan></text>
<text x="775.09" y="897.80" font-weight="bold"><tspan font-size="19.18" fill="#0000ff" dy="-11.26">12</tspan><tspan font-size="27.80" fill="#0000ff" dy="11.26">C</tspan><tspan font-size="27.80">O </tspan><tspan font-size="27.80">(Product)</tspan></text>
<rect x="723.80" y="592.50" width="4.00" height="28.00" fill="#000"/>
<text transform="translate(732.31,617.50) scale(1,1.04)" font-size="30.00" font-weight="bold" fill="#008000">1E+5</text>
<rect x="1166.30" y="588.30" width="4.00" height="20.00" fill="#000"/>
<text transform="translate(1175.61,608.70) scale(1,1.04)" font-size="30.00" font-weight="bold" fill="#ff8000">1E+4</text>
<rect x="956.40" y="591.40" width="75.30" height="39.20" fill="#000"/>
<rect x="950.00" y="585.00" width="75.30" height="39.20" fill="#fff" stroke="#555" stroke-width="0.9"/>
<text x="953.64" y="615.00" font-size="27.80" font-weight="bold">Light</text>
<text transform="translate(672.50,908.94) rotate(-90)" font-size="35.30" font-weight="bold" fill="#008000">Intensity (a.u.)</text>
<text transform="translate(1301.30,904.04) rotate(-90)" font-size="35.30" font-weight="bold" fill="#ff8000">Intensity (a.u.)</text>
<text x="838.80" y="1114.20" font-weight="bold"><tspan font-size="35.30">Temperature (</tspan><tspan font-size="24.36" dy="-13.80">o</tspan><tspan font-size="35.30" dy="13.80">C)</tspan></text>
<text x="663.75" y="584.90" font-size="52.50" font-weight="bold">e</text>
<g clip-path="url(#cf)">
<polyline points="1415.60,756.20 1467.56,756.20 1519.52,756.00 1571.48,756.00 1623.44,754.50 1675.40,758.30 1727.36,757.00 1779.32,767.50 1831.28,768.70 1883.24,787.80" fill="none" stroke="#6aa514" stroke-width="4.0" stroke-linejoin="round"/>
<circle cx="1415.60" cy="756.20" r="11.1" fill="#6aa514"/><circle cx="1412.70" cy="753.30" r="6.2" fill="url(#hl)"/>
<circle cx="1467.56" cy="756.20" r="11.1" fill="#6aa514"/><circle cx="1464.66" cy="753.30" r="6.2" fill="url(#hl)"/>
<circle cx="1519.52" cy="756.00" r="11.1" fill="#6aa514"/><circle cx="1516.62" cy="753.10" r="6.2" fill="url(#hl)"/>
<circle cx="1571.48" cy="756.00" r="11.1" fill="#6aa514"/><circle cx="1568.58" cy="753.10" r="6.2" fill="url(#hl)"/>
<circle cx="1623.44" cy="754.50" r="11.1" fill="#6aa514"/><circle cx="1620.54" cy="751.60" r="6.2" fill="url(#hl)"/>
<circle cx="1675.40" cy="758.30" r="11.1" fill="#6aa514"/><circle cx="1672.50" cy="755.40" r="6.2" fill="url(#hl)"/>
<circle cx="1727.36" cy="757.00" r="11.1" fill="#6aa514"/><circle cx="1724.46" cy="754.10" r="6.2" fill="url(#hl)"/>
<circle cx="1779.32" cy="767.50" r="11.1" fill="#6aa514"/><circle cx="1776.42" cy="764.60" r="6.2" fill="url(#hl)"/>
<circle cx="1831.28" cy="768.70" r="11.1" fill="#6aa514"/><circle cx="1828.38" cy="765.80" r="6.2" fill="url(#hl)"/>
<circle cx="1883.24" cy="787.80" r="11.1" fill="#6aa514"/><circle cx="1880.34" cy="784.90" r="6.2" fill="url(#hl)"/>
<polyline points="1415.60,1000.00 1467.56,1001.00 1519.52,999.70 1571.48,936.00 1623.44,926.30 1675.40,905.30 1727.36,870.40 1779.32,820.30 1831.28,774.80 1883.24,736.00" fill="none" stroke="#008000" stroke-width="4.0" stroke-linejoin="round"/>
<rect x="1406.80" y="991.20" width="17.60" height="17.60" fill="#fff" stroke="#008000" stroke-width="1.8"/>
<rect x="1405.90" y="990.30" width="19.40" height="10.30" fill="#008000"/>
<rect x="1458.76" y="992.20" width="17.60" height="17.60" fill="#fff" stroke="#008000" stroke-width="1.8"/>
<rect x="1457.86" y="991.30" width="19.40" height="10.30" fill="#008000"/>
<rect x="1510.72" y="990.90" width="17.60" height="17.60" fill="#fff" stroke="#008000" stroke-width="1.8"/>
<rect x="1509.82" y="990.00" width="19.40" height="10.30" fill="#008000"/>
<rect x="1562.68" y="927.20" width="17.60" height="17.60" fill="#fff" stroke="#008000" stroke-width="1.8"/>
<rect x="1561.78" y="926.30" width="19.40" height="10.30" fill="#008000"/>
<rect x="1614.64" y="917.50" width="17.60" height="17.60" fill="#fff" stroke="#008000" stroke-width="1.8"/>
<rect x="1613.74" y="916.60" width="19.40" height="10.30" fill="#008000"/>
<rect x="1666.60" y="896.50" width="17.60" height="17.60" fill="#fff" stroke="#008000" stroke-width="1.8"/>
<rect x="1665.70" y="895.60" width="19.40" height="10.30" fill="#008000"/>
<rect x="1718.56" y="861.60" width="17.60" height="17.60" fill="#fff" stroke="#008000" stroke-width="1.8"/>
<rect x="1717.66" y="860.70" width="19.40" height="10.30" fill="#008000"/>
<rect x="1770.52" y="811.50" width="17.60" height="17.60" fill="#fff" stroke="#008000" stroke-width="1.8"/>
<rect x="1769.62" y="810.60" width="19.40" height="10.30" fill="#008000"/>
<rect x="1822.48" y="766.00" width="17.60" height="17.60" fill="#fff" stroke="#008000" stroke-width="1.8"/>
<rect x="1821.58" y="765.10" width="19.40" height="10.30" fill="#008000"/>
<rect x="1874.44" y="727.20" width="17.60" height="17.60" fill="#fff" stroke="#008000" stroke-width="1.8"/>
<rect x="1873.54" y="726.30" width="19.40" height="10.30" fill="#008000"/>
<polyline points="1415.60,999.70 1467.56,1004.20 1519.52,1003.00 1571.48,998.30 1623.44,990.50 1675.40,976.60 1727.36,952.20 1779.32,898.60 1831.28,841.20 1883.24,764.50" fill="none" stroke="#9fd89f" stroke-width="4.0" stroke-linejoin="round"/>
<path d="M1415.60,985.70 L1427.30,1006.60 L1403.90,1006.60 Z" fill="#fff" stroke="#9fd89f" stroke-width="1.6" stroke-linejoin="miter"/>
<path d="M1415.60,984.30 L1424.79,1000.50 L1406.41,1000.50 Z" fill="#9fd89f"/>
<path d="M1467.56,990.20 L1479.26,1011.10 L1455.86,1011.10 Z" fill="#fff" stroke="#9fd89f" stroke-width="1.6" stroke-linejoin="miter"/>
<path d="M1467.56,988.80 L1476.75,1005.00 L1458.37,1005.00 Z" fill="#9fd89f"/>
<path d="M1519.52,989.00 L1531.22,1009.90 L1507.82,1009.90 Z" fill="#fff" stroke="#9fd89f" stroke-width="1.6" stroke-linejoin="miter"/>
<path d="M1519.52,987.60 L1528.71,1003.80 L1510.33,1003.80 Z" fill="#9fd89f"/>
<path d="M1571.48,984.30 L1583.18,1005.20 L1559.78,1005.20 Z" fill="#fff" stroke="#9fd89f" stroke-width="1.6" stroke-linejoin="miter"/>
<path d="M1571.48,982.90 L1580.67,999.10 L1562.29,999.10 Z" fill="#9fd89f"/>
<path d="M1623.44,976.50 L1635.14,997.40 L1611.74,997.40 Z" fill="#fff" stroke="#9fd89f" stroke-width="1.6" stroke-linejoin="miter"/>
<path d="M1623.44,975.10 L1632.63,991.30 L1614.25,991.30 Z" fill="#9fd89f"/>
<path d="M1675.40,962.60 L1687.10,983.50 L1663.70,983.50 Z" fill="#fff" stroke="#9fd89f" stroke-width="1.6" stroke-linejoin="miter"/>
<path d="M1675.40,961.20 L1684.59,977.40 L1666.21,977.40 Z" fill="#9fd89f"/>
<path d="M1727.36,938.20 L1739.06,959.10 L1715.66,959.10 Z" fill="#fff" stroke="#9fd89f" stroke-width="1.6" stroke-linejoin="miter"/>
<path d="M1727.36,936.80 L1736.55,953.00 L1718.17,953.00 Z" fill="#9fd89f"/>
<path d="M1779.32,884.60 L1791.02,905.50 L1767.62,905.50 Z" fill="#fff" stroke="#9fd89f" stroke-width="1.6" stroke-linejoin="miter"/>
<path d="M1779.32,883.20 L1788.51,899.40 L1770.13,899.40 Z" fill="#9fd89f"/>
<path d="M1831.28,827.20 L1842.98,848.10 L1819.58,848.10 Z" fill="#fff" stroke="#9fd89f" stroke-width="1.6" stroke-linejoin="miter"/>
<path d="M1831.28,825.80 L1840.47,842.00 L1822.09,842.00 Z" fill="#9fd89f"/>
<path d="M1883.24,750.50 L1894.94,771.40 L1871.54,771.40 Z" fill="#fff" stroke="#9fd89f" stroke-width="1.6" stroke-linejoin="miter"/>
<path d="M1883.24,749.10 L1892.43,765.30 L1874.05,765.30 Z" fill="#9fd89f"/>
<polyline points="1452.50,1014.00 1500.80,1014.00 1548.30,1014.00 1597.30,990.80 1645.50,982.50 1693.90,972.50 1742.50,962.70 1790.30,944.80 1838.50,933.30 1886.50,925.00" fill="none" stroke="#ff8000" stroke-width="4.0" stroke-linejoin="round"/>
<circle cx="1452.50" cy="1014.00" r="11.1" fill="#ff8000"/><circle cx="1449.60" cy="1011.10" r="6.2" fill="url(#hl)"/>
<circle cx="1500.80" cy="1014.00" r="11.1" fill="#ff8000"/><circle cx="1497.90" cy="1011.10" r="6.2" fill="url(#hl)"/>
<circle cx="1548.30" cy="1014.00" r="11.1" fill="#ff8000"/><circle cx="1545.40" cy="1011.10" r="6.2" fill="url(#hl)"/>
<circle cx="1597.30" cy="990.80" r="11.1" fill="#ff8000"/><circle cx="1594.40" cy="987.90" r="6.2" fill="url(#hl)"/>
<circle cx="1645.50" cy="982.50" r="11.1" fill="#ff8000"/><circle cx="1642.60" cy="979.60" r="6.2" fill="url(#hl)"/>
<circle cx="1693.90" cy="972.50" r="11.1" fill="#ff8000"/><circle cx="1691.00" cy="969.60" r="6.2" fill="url(#hl)"/>
<circle cx="1742.50" cy="962.70" r="11.1" fill="#ff8000"/><circle cx="1739.60" cy="959.80" r="6.2" fill="url(#hl)"/>
<circle cx="1790.30" cy="944.80" r="11.1" fill="#ff8000"/><circle cx="1787.40" cy="941.90" r="6.2" fill="url(#hl)"/>
<circle cx="1838.50" cy="933.30" r="11.1" fill="#ff8000"/><circle cx="1835.60" cy="930.40" r="6.2" fill="url(#hl)"/>
<circle cx="1886.50" cy="925.00" r="11.1" fill="#ff8000"/><circle cx="1883.60" cy="922.10" r="6.2" fill="url(#hl)"/>
</g>
<line x1="1372.70" y1="561.30" x2="1935.20" y2="561.30" stroke="#000" stroke-width="3.8"/>
<line x1="1372.70" y1="1014.30" x2="1935.20" y2="1014.30" stroke="#000" stroke-width="3.8"/>
<line x1="1372.70" y1="559.40" x2="1372.70" y2="1016.20" stroke="#008000" stroke-width="3.8"/>
<line x1="1935.20" y1="559.40" x2="1935.20" y2="1016.20" stroke="#ff8000" stroke-width="3.8"/>
<line x1="1415.60" y1="1014.30" x2="1415.60" y2="1023.00" stroke="#000" stroke-width="3.8"/>
<text transform="translate(1386.40,1058.00) scale(1,1.04)" font-size="35.00">300</text>
<line x1="1588.80" y1="1014.30" x2="1588.80" y2="1023.00" stroke="#000" stroke-width="3.8"/>
<text transform="translate(1559.60,1058.00) scale(1,1.04)" font-size="35.00">400</text>
<line x1="1762.00" y1="1014.30" x2="1762.00" y2="1023.00" stroke="#000" stroke-width="3.8"/>
<text transform="translate(1732.80,1058.00) scale(1,1.04)" font-size="35.00">500</text>
<line x1="1935.20" y1="1014.30" x2="1935.20" y2="1023.00" stroke="#000" stroke-width="3.8"/>
<text transform="translate(1906.00,1058.00) scale(1,1.04)" font-size="35.00">600</text>
<line x1="1502.20" y1="1014.30" x2="1502.20" y2="1019.20" stroke="#000" stroke-width="3.8"/>
<line x1="1675.40" y1="1014.30" x2="1675.40" y2="1019.20" stroke="#000" stroke-width="3.8"/>
<line x1="1848.60" y1="1014.30" x2="1848.60" y2="1019.20" stroke="#000" stroke-width="3.8"/>
<polyline points="1744.7,969.2 1744.7,983.0 1769.0,983.0" fill="none" stroke="#000" stroke-width="3.6"/>
<polygon points="1767.6,977.0 1792.7,983.0 1767.6,989.0" fill="#000"/>
<line x1="1390.30" y1="707.50" x2="1445.80" y2="707.50" stroke="#ff8000" stroke-width="4.0"/>
<circle cx="1418.00" cy="707.50" r="11.1" fill="#ff8000"/><circle cx="1415.10" cy="704.60" r="6.2" fill="url(#hl)"/>
<line x1="1390.30" y1="795.70" x2="1445.80" y2="795.70" stroke="#6aa514" stroke-width="4.0"/>
<circle cx="1417.50" cy="795.70" r="11.1" fill="#6aa514"/><circle cx="1414.60" cy="792.80" r="6.2" fill="url(#hl)"/>
<line x1="1390.30" y1="840.80" x2="1445.80" y2="840.80" stroke="#008000" stroke-width="4.0"/>
<rect x="1408.90" y="832.20" width="17.60" height="17.60" fill="#fff" stroke="#008000" stroke-width="1.8"/>
<rect x="1408.00" y="831.30" width="19.40" height="10.30" fill="#008000"/>
<line x1="1390.30" y1="885.70" x2="1445.80" y2="885.70" stroke="#9fd89f" stroke-width="4.0"/>
<path d="M1417.50,872.00 L1429.20,892.90 L1405.80,892.90 Z" fill="#fff" stroke="#9fd89f" stroke-width="1.6" stroke-linejoin="miter"/>
<path d="M1417.50,870.60 L1426.69,886.80 L1408.31,886.80 Z" fill="#9fd89f"/>
<text x="1446.14" y="718.00" font-weight="bold"><tspan font-size="27.80">H</tspan><tspan font-size="19.18" fill="#0000ff" dy="-11.26">12</tspan><tspan font-size="27.80" fill="#0000ff" dy="11.26">C</tspan><tspan font-size="27.80">HO </tspan><tspan font-size="27.80" dx="-2.50">(Intermediates)</tspan></text>
<text x="1445.09" y="806.20" font-weight="bold"><tspan font-size="19.18" fill="#0000ff" dy="-11.26">12</tspan><tspan font-size="27.80" fill="#0000ff" dy="11.26">C</tspan><tspan font-size="27.80">H</tspan><tspan font-size="19.18" dy="7.09">4</tspan><tspan font-size="27.80" dy="-7.09"> (Reactant)</tspan></text>
<text x="1445.09" y="851.20" font-weight="bold"><tspan font-size="19.18" fill="#0000ff" dy="-11.26">12</tspan><tspan font-size="27.80" fill="#0000ff" dy="11.26">C</tspan><tspan font-size="27.80">O</tspan><tspan font-size="19.18" dy="7.09">2 </tspan><tspan font-size="27.80" dy="-7.09">(Product)</tspan></text>
<text x="1445.09" y="896.20" font-weight="bold"><tspan font-size="19.18" fill="#0000ff" dy="-11.26">12</tspan><tspan font-size="27.80" fill="#0000ff" dy="11.26">C</tspan><tspan font-size="27.80">O </tspan><tspan font-size="27.80" dx="-1.80">(Product)</tspan></text>
<rect x="1397.70" y="586.70" width="4.20" height="28.30" fill="#000"/>
<text transform="translate(1405.61,612.50) scale(1,1.04)" font-size="30.00" font-weight="bold" fill="#008000">1E+5</text>
<rect x="1836.20" y="590.00" width="4.00" height="20.80" fill="#000"/>
<text transform="translate(1844.81,608.70) scale(1,1.04)" font-size="30.00" font-weight="bold" fill="#ff8000">1E+4</text>
<rect x="1619.60" y="590.10" width="70.00" height="39.60" fill="#000"/>
<rect x="1613.20" y="583.70" width="70.00" height="39.60" fill="#fff" stroke="#555" stroke-width="0.9"/>
<text x="1616.84" y="613.70" font-size="27.80" font-weight="bold">Dark</text>
<text transform="translate(1340.50,906.94) rotate(-90)" font-size="35.30" font-weight="bold" fill="#008000">Intensity (a.u.)</text>
<text transform="translate(1985.30,906.24) rotate(-90)" font-size="35.30" font-weight="bold" fill="#ff8000">Intensity (a.u.)</text>
<text x="1510.40" y="1111.30" font-weight="bold"><tspan font-size="35.30">Temperature (</tspan><tspan font-size="24.36" dy="-13.80">o</tspan><tspan font-size="35.30" dy="13.80">C)</tspan></text>
<text x="1335.80" y="584.70" font-size="52.50" font-weight="bold">f</text></svg></body></html>
